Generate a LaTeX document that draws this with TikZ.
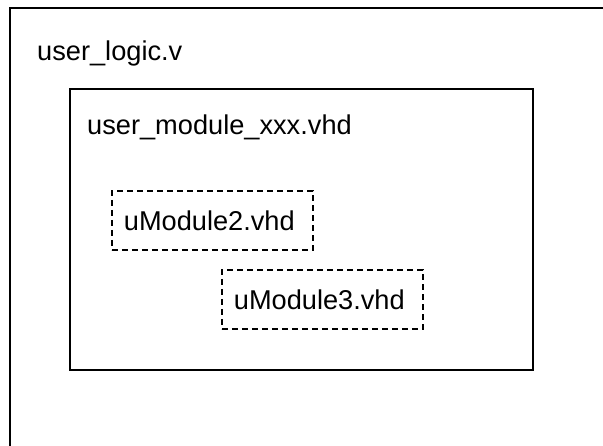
\documentclass[tikz,border=0pt]{standalone}
\usepackage{fontspec}
\setmainfont{Liberation Sans}
\tikzset{
    filebox/.style={draw, line width=2pt},
    subfile/.style={draw, line width=1.8pt, dash pattern=on 6pt off 4pt,
        anchor=north west, align=left, text width=177pt, inner xsep=12pt,
        minimum height=59pt, font=\fontsize{27.2}{30}\selectfont},
    filename/.style={anchor=base west, inner sep=0pt, font=\fontsize{27.2}{30}\selectfont}
}
\begin{document}
\begin{tikzpicture}[x=1pt, y=-1pt]
    \useasboundingbox (0,0) rectangle (603,446);
    % top level file, runs off the page
    \draw[filebox] (620,8) -- (10,8) -- (10,460);
    \node[filename] (logic) at (37,61) {user\_logic.v};
    % wrapper module
    \draw[filebox] (70,89) rectangle (533,370);
    \node[filename] (wrapper) at (87,135) {user\_module\_xxx.vhd};
    \node[subfile] (umod2) at (111,190) {uModule2.vhd};
    \node[subfile] (umod3) at (221,269) {uModule3.vhd};
\end{tikzpicture}
\end{document}
